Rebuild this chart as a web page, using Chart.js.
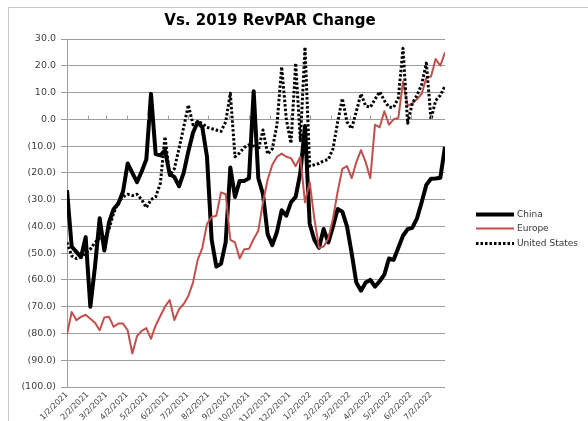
<!DOCTYPE html>
<html><head><meta charset="utf-8">
<script src="https://cdn.jsdelivr.net/npm/chart.js@4.4.1/dist/chart.umd.min.js"></script>
<style>html,body{margin:0;padding:0;background:#fff;}#wrap{width:588px;height:421px;position:relative;}</style>
</head><body><div id="wrap"><canvas id="c" width="588" height="421"></canvas></div>
<script>
const titleText = 'Vs. 2019 RevPAR Change';
const startDate = '1/2/2021'; // first weekly observation
const seriesNames = ['China', 'Europe', 'United States'];
const tickLabels = ['1/2/2021','2/2/2021','3/2/2021','4/2/2021','5/2/2021','6/2/2021','7/2/2021','8/2/2021','9/2/2021','10/2/2021','11/2/2021','12/2/2021','1/2/2022','2/2/2022','3/2/2022','4/2/2022','5/2/2022','6/2/2022','7/2/2022'];
const yMin = -100, yMax = 30, yStep = 10;

const china = [-26.5,-47.5,-49.5,-51.5,-44,-70,-55,-37,-49,-38.5,-33.5,-31.5,-27,-16.5,-20,-23.5,-19.5,-15,9.5,-13,
  -13.5,-11.5,-20.5,-21.5,-25,-20,-12,-5,-1,-3,-14,-45,-55,-54,-46,-18,-29,-23,-23,-22,
  10.5,-22,-28,-43,-47,-42,-34,-36,-31,-29,-20,-2.5,-39,-45,-48,-41,-46,-40,-33.5,-34.5,
  -40,-50,-61,-64,-61,-60,-62.5,-60.5,-58,-52,-52.5,-48,-43.5,-41,-40.5,-37,-31,-24.5,-22.2,-22.1,
  -21.8,-10.3];
const europe = [-80.3,-72,-75,-73.8,-73,-74.5,-76,-78.8,-74,-73.8,-77.5,-76.3,-76.3,-78.8,-87.5,-81,-79,-78,-82,-77,
  -73.5,-70,-67.5,-75,-71,-69,-66,-61,-52.5,-48,-39,-36.5,-36,-27.3,-28,-45,-46,-52,-48.5,-48.4,
  -44.7,-41.6,-31,-22.5,-17,-14,-12.8,-14,-14.5,-17.5,-14,-31,-23.5,-37,-48,-47.5,-44.5,-37,-27,-18.5,
  -17.5,-22,-16,-11.5,-16,-22,-2,-3,3,-2,0,0.5,14,5,6,7.5,9.5,15.5,16,22.5,
  20,25];
const unitedStates = [-46,-51,-52,-51.5,-50,-48.5,-46,-44.5,-45,-41,-35,-31,-29,-28,-28.5,-28,-30,-33,-30,-29,
  -24,-6.5,-21,-18.5,-11,-3,5.4,-2,-1,-1.5,-3,-3.5,-4,-4.5,-1,9.7,-14,-12.5,-10.5,-9.5,
  -10,-11.5,-4,-13,-11,-2,19.6,0,-9,21,-8,27,-17.5,-17,-16.5,-15.5,-15,-11,-1,7.8,
  -1,-3.5,3,9.5,5,4.5,7.5,10.3,7,4.5,4.5,8,26.5,-1.5,6,9,13,21,0,7,
  9,12.5];

const DAY = 86400000;
function parseMDY(s){ const [m,d,y] = s.split('/').map(Number); return Date.UTC(y, m-1, d); }
const t0 = parseMDY(startDate);
const tickDays = tickLabels.map(s => (parseMDY(s) - t0) / DAY);
const weekly = arr => arr.map((v, i) => ({x: i * 7, y: v}));
const lastDay = (china.length - 1) * 7;
const fmt = v => v < 0 ? '(' + Math.abs(v).toFixed(1) + ')' : v.toFixed(1);
const FONT = 'DejaVu Sans';
const gridGray = '#9c9c9c';

const extras = {
  id: 'extras',
  beforeDraw(chart) {
    const c = chart.ctx;
    c.save();
    c.fillStyle = '#fff'; c.fillRect(0, 0, chart.width, chart.height);
    c.strokeStyle = '#c8c8c8'; c.lineWidth = 1;
    c.strokeRect(8.5, 7.5, 700, 500);
    c.restore();
  },
  afterDraw(chart) {
    const c = chart.ctx, xs = chart.scales.x, ys = chart.scales.y;
    c.save();
    // horizontal axis crosses at 0, with its tick marks
    const y0 = Math.round(ys.getPixelForValue(0)) + 0.5;
    c.strokeStyle = gridGray; c.lineWidth = 1;
    tickDays.forEach(d => {
      const x = Math.round(xs.getPixelForValue(d)) + 0.5;
      c.beginPath(); c.moveTo(x, y0 - 4); c.lineTo(x, y0); c.stroke();
    });
    // title
    c.fillStyle = '#000'; c.font = 'bold 15px "' + FONT + '"';
    c.textAlign = 'center'; c.textBaseline = 'middle';
    c.fillText(titleText, 270, 21);
    // legend
    const lx = 476, len = 38, rows = [214, 228, 243];
    chart.data.datasets.forEach((ds, k) => {
      const y = rows[k] + 0.5;
      c.strokeStyle = ds.borderColor; c.lineWidth = ds.borderWidth;
      c.setLineDash(ds.borderDash || []);
      c.beginPath(); c.moveTo(lx, y); c.lineTo(lx + len, y); c.stroke();
      c.setLineDash([]);
      c.fillStyle = '#333'; c.font = '9px "' + FONT + '"';
      c.textAlign = 'left'; c.textBaseline = 'middle';
      c.fillText(ds.label, lx + len + 3, y);
    });
    c.restore();
  }
};

new Chart(document.getElementById('c'), {
  type: 'line',
  data: {
    datasets: [
      {label: seriesNames[0], data: weekly(china), borderColor: '#000000', borderWidth: 4, order: 2},
      {label: seriesNames[1], data: weekly(europe), borderColor: '#c0504d', borderWidth: 2, order: 1},
      {label: seriesNames[2], data: weekly(unitedStates), borderColor: '#000000', borderWidth: 3, borderDash: [2.5, 2], order: 0}
    ]
  },
  options: {
    responsive: false, animation: false,
    elements: {point: {radius: 0}, line: {tension: 0, borderJoinStyle: 'round'}},
    layout: {padding: {top: 39, left: 0, right: 143, bottom: 0}},
    plugins: {legend: {display: false}, title: {display: false}, tooltip: {enabled: false}},
    scales: {
      x: {
        type: 'linear', min: 0, max: lastDay,
        afterBuildTicks: s => { s.ticks = tickDays.map(v => ({value: v})); },
        afterFit: s => { s.height = 34; },
        grid: {display: false, drawTicks: false},
        border: {display: false},
        ticks: {autoSkip: false, minRotation: 45, maxRotation: 45, padding: 3,
          font: {family: FONT, size: 8}, color: '#404040',
          callback: (v, i) => tickLabels[i]}
      },
      y: {
        min: yMin, max: yMax,
        afterFit: s => { s.width = 67; },
        grid: {color: gridGray, tickLength: 6},
        border: {color: gridGray},
        ticks: {stepSize: yStep, padding: 5, font: {family: FONT, size: 9.5}, color: '#404040',
          callback: v => fmt(v)}
      }
    }
  },
  plugins: [extras]
});
</script></body></html>
